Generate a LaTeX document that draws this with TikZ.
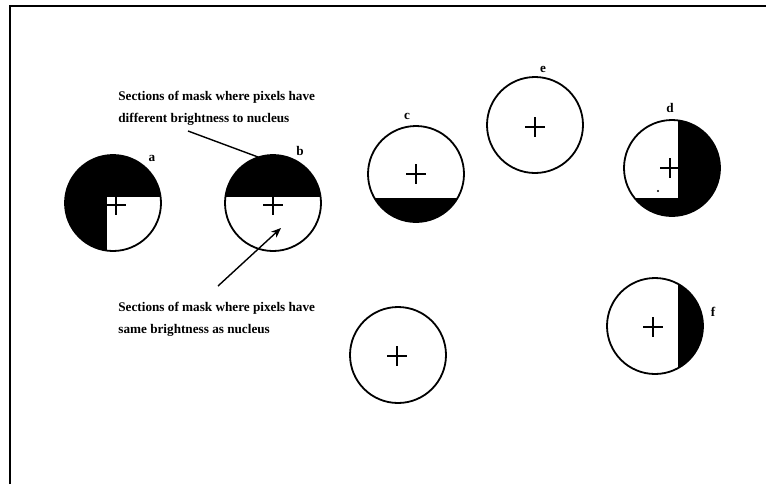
\documentclass[tikz,border=0pt]{standalone}
\usepackage{fontspec}
\setmainfont{Liberation Serif}
\usetikzlibrary{arrows.meta}
\begin{document}
\begin{tikzpicture}[x=0.5pt,y=-0.5pt,
  mask/.style={line width=0.9pt},
  nucleus/.style={line width=0.7pt},
  pointer/.style={line width=0.7pt},
  tag/.style={font=\fontsize{6.6}{11}\selectfont\bfseries, inner sep=0pt},
  note/.style={font=\fontsize{6.6}{11}\selectfont\bfseries, align=left, inner sep=0pt}]
\useasboundingbox (0,0) rectangle (766,484);
% frame (top and left edges)
\draw[line width=0.8pt] (10,484) -- (10,6) -- (766,6);
% mask a: all dark but the lower right quarter
\begin{scope}
\clip (113,203) circle [radius=24pt];
\fill (60,150) rectangle (170,197);
\fill (60,197) rectangle (107,260);
\end{scope}
% mask b: upper half dark
\begin{scope}
\clip (273,203) circle [radius=24pt];
\fill (220,150) rectangle (330,197);
\end{scope}
% mask c: lower band dark
\begin{scope}
\clip (416,174) circle [radius=24pt];
\fill (360,198) rectangle (470,230);
\end{scope}
% mask d: right side and bottom dark
\begin{scope}
\clip (672,168) circle [radius=24pt];
\fill (678,110) rectangle (730,230);
\fill (610,198) rectangle (730,230);
\end{scope}
\fill (658,191) circle [radius=0.6pt];
% mask f: right side dark
\begin{scope}
\clip (655,326) circle [radius=24pt];
\fill (678,270) rectangle (720,380);
\end{scope}
% mask outlines
\foreach \x/\y in {113/203,273/203,416/174,535/125,672/168,655/326,398/355}
  \draw[mask] (\x,\y) circle [radius=24pt];
% nucleus crosses
\foreach \x/\y in {116/205,273/205,416/174,535/127,670/168,653/327,397/356}
  \draw[nucleus] (\x-10,\y) -- (\x+10,\y) (\x,\y-10) -- (\x,\y+10);
% mask labels
\node[tag] (la) at (152,158) {a};
\node[tag] (lb) at (300,151) {b};
\node[tag] (lc) at (407,116) {c};
\node[tag] (le) at (543,69) {e};
\node[tag] (ld) at (670,108) {d};
\node[tag] (lf) at (713,312) {f};
% notes
\node[note, anchor=north west] (diff) at (118,91) {Sections of mask where pixels have\\different brightness to nucleus};
\node[note, anchor=north west] (same) at (118,302) {Sections of mask where pixels have\\same brightness as nucleus};
\coordinate (difftail) at (188,131);
\coordinate (btop) at (258,157);
\coordinate (sametail) at (218,286);
\coordinate (bwhite) at (281,228);
\draw[pointer] (difftail) -- (btop);
\draw[pointer, -{Stealth[length=5pt,width=4pt]}] (sametail) -- (bwhite);
\end{tikzpicture}
\end{document}
